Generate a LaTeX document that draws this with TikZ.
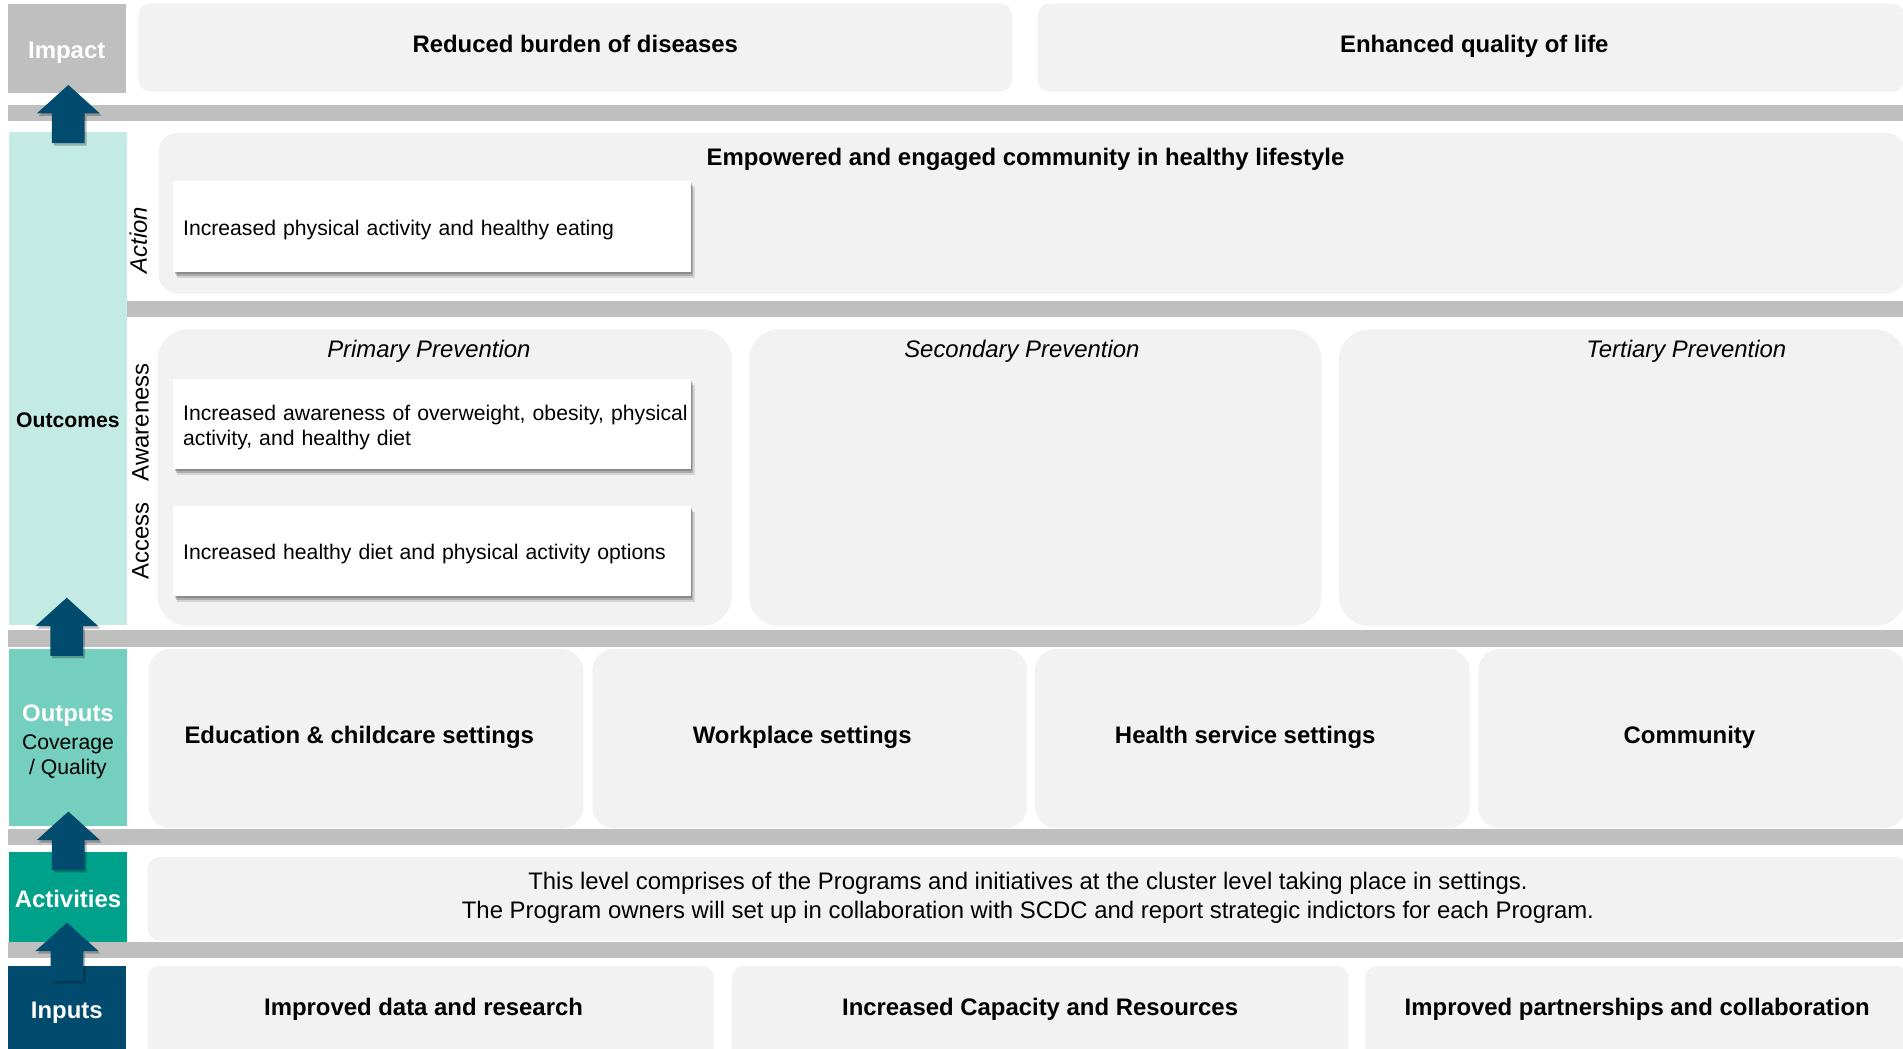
\documentclass[tikz,border=0pt]{standalone}
\usepackage{fontspec}
\setmainfont{Liberation Sans}
\usetikzlibrary{shadows}

\definecolor{bandgray}{HTML}{BFBFBF}
\definecolor{panelgray}{HTML}{F2F2F2}
\definecolor{outcometeal}{HTML}{C3EBE3}
\definecolor{outputteal}{HTML}{75CFBE}
\definecolor{activityteal}{HTML}{00A18A}
\definecolor{inputblue}{HTML}{004B6E}

\newcommand{\lbl}{\fontsize{19.7}{24}\selectfont}
\newcommand{\boxtxt}{\fontsize{17.45}{20.6}\selectfont}

\begin{document}
\begin{tikzpicture}[x=1pt,y=-1pt,
	band/.style={fill=bandgray},
	panel/.style={fill=panelgray,rounded corners=#1},
	panel/.default=10pt,
	head/.style={font=\lbl\bfseries,text height=14pt,text depth=0pt},
	title/.style={font=\lbl\itshape,text height=14pt,text depth=0pt},
	lvl/.style={font=\lbl\bfseries,text=white,text height=14pt,text depth=0pt},
	softshadow/.style={
		drop shadow={shadow xshift=3pt,shadow yshift=-4.5pt,opacity=.12,fill=black},
		drop shadow={shadow xshift=2pt,shadow yshift=-3pt,opacity=.18,fill=black},
		drop shadow={shadow xshift=1pt,shadow yshift=-1.5pt,opacity=.2,fill=black}},
	whitebox/.style={fill=white,anchor=north west,minimum width=426.5pt,minimum height=#1,
		inner xsep=8pt,text width=410.5pt,text height=17.5pt,align=left,font=\boxtxt,softshadow},
	arrowshadow/.style={drop shadow={shadow xshift=1.5pt,shadow yshift=-2pt,opacity=.25,fill=black}}]
	\useasboundingbox (0,0) rectangle (1568,864);
	\clip (0,0) rectangle (1568,864);
	% separators
	\fill[band] (6.6,86.5) rectangle (1568,99.4);
	\fill[band] (104.5,248) rectangle (1568,261);
	\fill[band] (7,519) rectangle (1568,532.8);
	\fill[band] (7,683.3) rectangle (1568,696.2);
	\fill[band] (7,775.8) rectangle (1568,789.6);
	% level column
	\fill[bandgray] (6.6,3.3) rectangle (103.7,76.4);
	\fill[outcometeal] (7.4,108.8) rectangle (104.5,515);
	\fill[outputteal] (7.4,534.7) rectangle (104.5,680.3);
	\fill[activityteal] (7.4,702.2) rectangle (104.5,775.8);
	\fill[inputblue] (6.6,795.9) rectangle (103.7,880);
	% panels
	\fill[panel] (114,2.7) rectangle (834,75.5);
	\fill[panel] (855,2.7) rectangle (1569,75.5);
	\fill[panel=16pt] (130.6,109.3) rectangle (1570,242);
	\foreach \a/\b in {129.8/603,617/1089,1103.2/1570}
		\fill[panel=25pt] (\a,271.4) rectangle (\b,515.8);
	\foreach \a/\b in {122.5/480.7,488/846.4,852.7/1211,1217.9/1570}
		\fill[panel=18pt] (\a,534.7) rectangle (\b,682.5);
	\fill[panel] (121.4,706.3) rectangle (1572,775);
	\foreach \a/\b in {121.4/588.4,603/1111.2,1124.9/1572}
		\fill[panel] (\a,796) rectangle (\b,890);
	% arrows between levels
	\foreach \cx/\ty in {56.3/70,55/492.5,56.3/668.7,55.2/760.2}
		\fill[inputblue,arrowshadow] (\cx,\ty) -- ++(26,23.5) -- ++(-12.5,0) -- ++(0,24.5)
			-- ++(-27,0) -- ++(0,-24.5) -- ++(-12.5,0) -- cycle;
	% level labels
	\node[lvl] (impact) at (55,41) {Impact};
	\node[lvl,font=\boxtxt\bfseries,text=black,text height=12.6pt] (outcomes) at (56,346) {Outcomes};
	\node[lvl] (outputs) at (56,587.7) {Outputs};
	\node[font=\boxtxt,align=center] (coverage) at (56,623.5) {Coverage\\/ Quality};
	\node[lvl] (activities) at (56,741) {Activities};
	\node[lvl] (inputs) at (55,832) {Inputs};
	\node[title,rotate=90] (action) at (114,198) {Action};
	\node[font=\lbl,rotate=90] (awareness) at (115.8,348) {Awareness};
	\node[font=\lbl,rotate=90] (access) at (115.8,446) {Access};
	% impact and outcomes
	\node[head] (burden) at (474,36) {Reduced burden of diseases};
	\node[head] (life) at (1214.8,36) {Enhanced quality of life};
	\node[head] (lifestyle) at (845,129) {Empowered and engaged community in healthy lifestyle};
	\node[whitebox=75pt] (eating) at (142.7,149) {Increased physical activity and healthy eating};
	\node[title] (primary) at (353.4,287.8) {Primary Prevention};
	\node[title] (secondary) at (842,287.8) {Secondary Prevention};
	\node[title] (tertiary) at (1389.5,287.8) {Tertiary Prevention};
	\node[whitebox=74pt] (aware) at (142.7,312.3) {\mbox{Increased awareness of overweight, obesity, physical} activity, and healthy diet};
	\node[whitebox=74pt] (options) at (142.7,417) {Increased healthy diet and physical activity options};
	% outputs, activities, inputs
	\foreach \x/\t [count=\i] in {296/Education \& childcare settings,661/Workplace settings,1026/Health service settings,1392/Community}
		\node[head] (setting\i) at (\x,605.6) {\t};
	\node[font=\lbl,align=center] (programs) at (847,740) {This level comprises of the Programs and initiatives at the cluster level taking place in settings.\\The Program owners will set up in collaboration with SCDC and report strategic indictors for each Program.};
	\foreach \x/\t [count=\i] in {349/Improved data and research,857/Increased Capacity and Resources,1349/Improved partnerships and collaboration}
		\node[head] (input\i) at (\x,829.4) {\t};
\end{tikzpicture}
\end{document}
